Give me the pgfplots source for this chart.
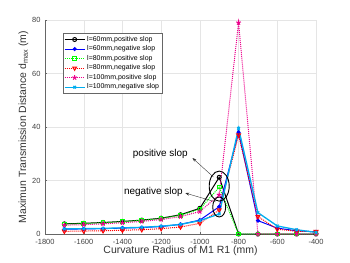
\documentclass[border=0pt]{standalone}
\usepackage{pgfplots}
\pgfplotsset{compat=1.18}
\usepackage{fontspec}
\setmainfont{Liberation Sans}
\usetikzlibrary{arrows.meta}
\begin{document}
\begin{tikzpicture}
\begin{axis}[
  scale only axis, width=271bp, height=214bp,
  xmin=-1800, xmax=-400, ymin=0, ymax=80,
  xtick={-1800,-1600,...,-400}, ytick={0,20,...,80},
  /pgf/number format/assume math mode=true,
  /pgf/number format/set thousands separator={},
  tick label style={font=\fontsize{7.5}{8}\selectfont, color=black!75},
  xticklabel style={yshift=-1.5pt},
  yticklabel style={xshift=-1pt},
  xlabel={Curvature Radius of M1 R1  (mm)},
  ylabel={Maximun Transmission Distance d$_{\mathrm{max}}$ (m)},
  label style={font=\fontsize{10.5}{11}\selectfont, color=black!80},
  xlabel style={yshift=5pt},
  ylabel style={yshift=-3pt},
  axis x line*=bottom, axis y line*=left,
  axis line style={black!60},
  grid=major, grid style={black!10},
  tick align=inside, major tick length=2pt, tick style={black!60},
  legend style={at={(0.066,0.939)}, anchor=north west, font=\fontsize{7}{7.5}\selectfont, draw=black!60, inner sep=1pt, row sep=-1pt, legend cell align=left},
  legend image code/.code={\draw[mark repeat=2,mark phase=2] plot coordinates {(0cm,0cm) (0.35cm,0cm) (0.7cm,0cm)};},
  every axis plot/.append style={line width=1pt},
  clip=false,
]
\addplot[black, mark=o, mark size=2pt] coordinates {(-1700,3.8)(-1600,4.0)(-1500,4.3)(-1400,4.7)(-1300,5.2)(-1200,5.9)(-1100,7.2)(-1000,9.6)(-900,21.2)(-800,0)(-700,0)(-600,0)(-500,0)(-400,0)};
\addlegendentry{l=60mm,positive slop}
\addplot[blue, mark=*, mark size=1.5pt] coordinates {(-1700,1.8)(-1600,1.9)(-1500,2.0)(-1400,2.2)(-1300,2.4)(-1200,2.8)(-1100,3.6)(-1000,5.2)(-900,10.2)(-800,38)(-700,5.0)(-600,2.2)(-500,1.2)(-400,0.8)};
\addlegendentry{l=60mm,negative slop}
\addplot[green, densely dotted, mark=square, mark options={solid}, mark size=1.8pt] coordinates {(-1700,3.7)(-1600,3.9)(-1500,4.2)(-1400,4.6)(-1300,5.1)(-1200,5.8)(-1100,7.0)(-1000,9.3)(-900,17.5)(-800,0)(-700,0)(-600,0)(-500,0)(-400,0)};
\addlegendentry{l=80mm,positive slop}
\addplot[red, densely dotted, mark=triangle, mark options={solid, rotate=180}, mark size=2.2pt] coordinates {(-1700,1.0)(-1600,1.1)(-1500,1.2)(-1400,1.4)(-1300,1.6)(-1200,2.0)(-1100,2.6)(-1000,4.0)(-900,9.0)(-800,37)(-700,6.5)(-600,1.8)(-500,1.0)(-400,0.9)};
\addlegendentry{l=80mm,negative slop}
\addplot[magenta, densely dotted, mark=star, mark options={solid, fill=magenta}, mark size=2.5pt] coordinates {(-1700,3.3)(-1600,3.5)(-1500,3.8)(-1400,4.2)(-1300,4.7)(-1200,5.4)(-1100,6.5)(-1000,8.4)(-900,14.6)(-800,79)(-700,0)(-600,0)(-500,0)(-400,0)};
\addlegendentry{l=100mm,positive slop}
\addplot[cyan, line width=1.3pt, mark=x, mark size=1.8pt] coordinates {(-1700,1.9)(-1600,2.0)(-1500,2.1)(-1400,2.3)(-1300,2.5)(-1200,2.9)(-1100,3.6)(-1000,5.0)(-900,7.5)(-800,39.5)(-700,8.0)(-600,3.0)(-500,1.6)(-400,0.6)};
\addlegendentry{l=100mm,negative slop}
\draw[black, line width=0.9pt] (axis cs:-900,17.9) ellipse [x radius=10bp, y radius=15bp];
\draw[black, line width=0.9pt] (axis cs:-900,10.1) ellipse [x radius=6.5bp, y radius=10bp];
\draw[-{Stealth[length=4pt]}, black!80, line width=0.4pt] (axis cs:-930,21.3) -- (axis cs:-1038,28.4);
\draw[-{Stealth[length=4pt]}, black!80, line width=0.4pt] (axis cs:-919,12) -- (axis cs:-1075,15.3);
\node[font=\fontsize{10}{11}\selectfont] at (axis cs:-1204,29.9) {positive slop};
\node[font=\fontsize{10}{11}\selectfont] at (axis cs:-1240,15.7) {negative slop};
\coordinate (SW) at (rel axis cs:0,0);
\end{axis}
\pgfresetboundingbox
\useasboundingbox (SW) ++(-45bp,-29bp) rectangle ++(350bp,263bp);
\end{tikzpicture}
\end{document}
